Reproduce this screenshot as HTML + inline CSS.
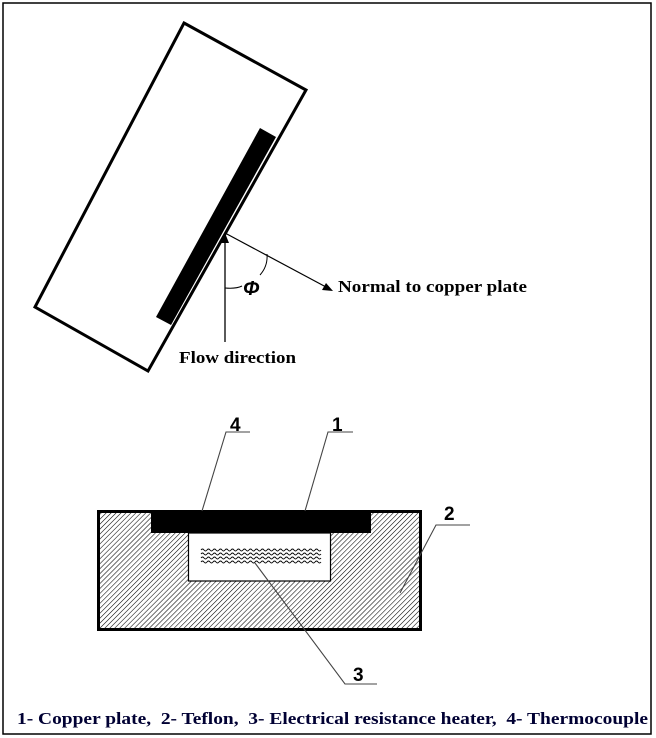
<!DOCTYPE html>
<html><head><style>
html,body{margin:0;padding:0;background:#fff;}
svg{display:block;}
</style></head><body>
<svg width="656" height="738" viewBox="0 0 656 738" xmlns="http://www.w3.org/2000/svg">
<defs>
<pattern id="h" width="3.5" height="3.5" patternUnits="userSpaceOnUse" patternTransform="rotate(45)">
<rect width="3.5" height="3.5" fill="#fff"/>
<line x1="0" y1="0" x2="0" y2="3.5" stroke="#000" stroke-width="1.1"/>
</pattern>
</defs>
<rect x="3" y="3" width="648" height="731" fill="#fff" stroke="#000" stroke-width="1.5"/>
<polygon points="184,23 306,90 148,371 35,307" fill="#fff" stroke="#000" stroke-width="3"/>
<polygon points="260,128 276,137 171,325 156,317" fill="#000"/>
<line x1="225" y1="342" x2="225" y2="240" stroke="#000" stroke-width="1.3"/>
<polygon points="225,233 221,243 229,243" fill="#000"/>
<line x1="225" y1="233" x2="326" y2="287" stroke="#000" stroke-width="1.2"/>
<polygon points="333,291 322,290 326,283" fill="#000"/>
<path d="M 225 288 Q 236 289 242 286" fill="none" stroke="#000" stroke-width="1"/>
<path d="M 260 275 Q 268 266 267 254" fill="none" stroke="#000" stroke-width="1"/>
<text x="243" y="295" font-family="Liberation Sans, sans-serif" font-style="italic" font-weight="bold" font-size="20">Φ</text>
<text x="338" y="292" font-family="Liberation Serif, serif" font-weight="bold" font-size="16.5" textLength="189" lengthAdjust="spacingAndGlyphs">Normal to copper plate</text>
<text x="179" y="363" font-family="Liberation Serif, serif" font-weight="bold" font-size="16.5" textLength="117" lengthAdjust="spacingAndGlyphs">Flow direction</text>
<rect x="98.5" y="511.5" width="322" height="118" fill="url(#h)" stroke="#000" stroke-width="3"/>
<rect x="151" y="510" width="220" height="23" fill="#000"/>
<rect x="188.5" y="533" width="142" height="48" fill="#fff" stroke="#000" stroke-width="1.2"/>
<g fill="none" stroke="#000" stroke-width="0.9">
<path id="w" d="M201 550 q1.5 -2 3 0 t3 0 t3 0 t3 0 t3 0 t3 0 t3 0 t3 0 t3 0 t3 0 t3 0 t3 0 t3 0 t3 0 t3 0 t3 0 t3 0 t3 0 t3 0 t3 0 t3 0 t3 0 t3 0 t3 0 t3 0 t3 0 t3 0 t3 0 t3 0 t3 0 t3 0 t3 0 t3 0 t3 0 t3 0 t3 0 t3 0 t3 0 t3 0 t3 0"/>
<use href="#w" y="4"/><use href="#w" y="8"/><use href="#w" y="12"/>
</g>
<g fill="none" stroke="#444" stroke-width="1.1">
<polyline points="202,511 226,432 250,432"/>
<polyline points="305,511 328,432 353,432"/>
<polyline points="400,593 436,525 470,525"/>
<polyline points="255,563 345,684 377,684"/>
</g>
<g font-family="Liberation Sans, sans-serif" font-weight="bold" font-size="19">
<text x="230" y="431">4</text>
<text x="332" y="431">1</text>
<text x="444" y="520">2</text>
<text x="353" y="681">3</text>
</g>
<text x="17" y="724" fill="#000033" font-family="Liberation Serif, serif" font-weight="bold" font-size="17" textLength="631" lengthAdjust="spacingAndGlyphs" xml:space="preserve">1- Copper plate,  2- Teflon,  3- Electrical resistance heater,  4- Thermocouple</text>
</svg>
</body></html>
